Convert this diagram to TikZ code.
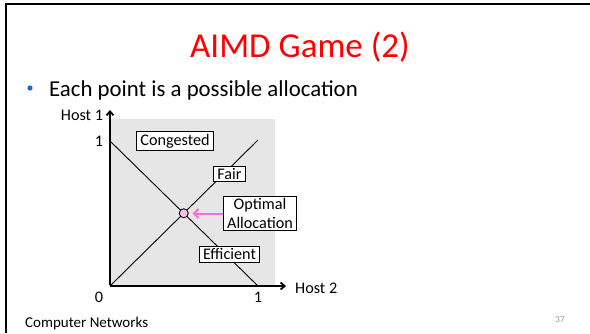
\documentclass[tikz,border=0pt]{standalone}
\usepackage{fontspec}
\setmainfont{Carlito}
\usetikzlibrary{arrows.meta,intersections}
\definecolor{titlered}{RGB}{255,0,0}
\definecolor{areagray}{RGB}{230,230,230}
\definecolor{bulletblue}{RGB}{30,100,220}
\definecolor{pinkfill}{RGB}{255,190,240}
\definecolor{pinkarrow}{RGB}{250,110,220}
\definecolor{numgray}{RGB}{150,150,150}
\tikzset{
  lbl/.style={font=\fontsize{16.2}{18.5}\selectfont},
  labelbox/.style={draw=black, line width=0.9pt, fill=white, inner xsep=3.8pt, inner ysep=2.3pt, lbl, align=center},
  axis/.style={line width=1.8pt, -{Straight Barb[length=4pt,width=7pt]}},
  thinline/.style={line width=0.9pt},
}
\begin{document}
\begin{tikzpicture}[x=1pt,y=-1pt]
\useasboundingbox (0,0) rectangle (590,333);
\fill[white] (0,0) rectangle (590,333);
% slide frame
\draw[line width=2.3pt] (6.2,333) -- (6.2,3.8) -- (590,3.8);
% title and bullet
\node[anchor=base, text=titlered, font=\fontsize{35}{40}\selectfont, inner sep=0] (title) at (300,57) {AIMD Game (2)};
\node[circle, fill=bulletblue, inner sep=0, minimum size=5.2pt] (bul) at (30,88) {};
\node[anchor=base west, font=\fontsize{22.8}{26}\selectfont, inner sep=0] (point) at (49,96.7) {Each point is a possible allocation};
% shaded region
\fill[areagray] (110,119) rectangle (275,286);
% coordinates
\coordinate (O) at (110,286);
\coordinate (Y1) at (110,141);
\coordinate (X1) at (258,286);
\coordinate (FT) at (258,140);
\coordinate (ytip) at (110,110);
\coordinate (xtip) at (286,286);
% lines
\draw[thinline, name path=effline] (Y1) -- (X1);
\draw[thinline, name path=fairline] (O) -- (FT);
% axes
\draw[axis] ([yshift=1pt]O) -- (ytip);
\draw[axis] (O) -- (xtip);
% labels
\node[labelbox] (cong) at (175,141) {Congested};
\node[labelbox] (fair) at (229.5,174) {Fair};
\node[labelbox] (opt) at (260,213.5) {Optimal\\Allocation};
\node[labelbox] (eff) at (229.5,254) {Efficient};
% optimal point
\path[name intersections={of=effline and fairline, by=X}];
\node[circle, draw=black, fill=pinkfill, line width=0.9pt, minimum size=9pt, inner sep=0] (dot) at (X) {};
\draw[pinkarrow, line width=2pt, -{Straight Barb[length=4.5pt,width=9pt]}, shorten >=4pt] (opt.west) -- (dot.east |- opt.west);
% axis labels
\node[lbl, inner sep=0] (ylab1) at (99,141) {1};
\node[lbl, inner sep=0] (zero) at (99,297) {0};
\node[lbl, inner sep=0] (xlab1) at (258,297) {1};
\node[lbl, inner sep=0] (host1) at (82,115) {Host 1};
\node[lbl, inner sep=0, anchor=west] (host2) at (295,288.5) {Host 2};
% footer
\node[anchor=base west, font=\fontsize{15}{17}\selectfont, inner sep=0] (foot) at (25,327) {Computer Networks};
\node[font=\fontsize{9}{10}\selectfont, text=numgray, inner sep=0] (pnum) at (560,320) {37};
\end{tikzpicture}
\end{document}
